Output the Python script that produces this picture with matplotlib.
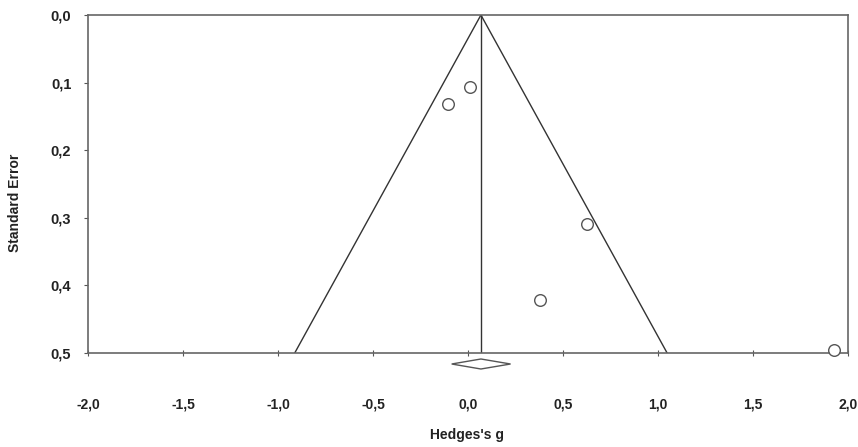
import matplotlib
matplotlib.use("Agg")
import matplotlib.pyplot as plt
from matplotlib.patches import Polygon

plt.rcParams['font.family'] = ['Liberation Sans', 'DejaVu Sans']

# Data
effect = [-0.105, 0.011, 0.626, 0.379, 1.926]
se = [0.131, 0.107, 0.309, 0.422, 0.495]
summary = 0.068
ci_low, ci_high = -0.086, 0.224
xticks = [-2.0, -1.5, -1.0, -0.5, 0.0, 0.5, 1.0, 1.5, 2.0]
yticks = [0.0, 0.1, 0.2, 0.3, 0.4, 0.5]
se_max = 0.5

fig = plt.figure(figsize=(8.58, 4.47), dpi=100)
ax = fig.add_axes([88/858, 1-353/447, 760/858, 338/447])

# funnel
ax.plot([summary - 1.96*se_max, summary, summary + 1.96*se_max], [se_max, 0, se_max],
        color='#333333', lw=1.0, zorder=2)
ax.plot([summary, summary], [0, se_max], color='#333333', lw=1.0, zorder=2)

ax.scatter(effect, se, s=70, facecolors='white', edgecolors='#555555', linewidths=1.0, zorder=3, clip_on=False)

# summary diamond below axis
yd = 0.5 + 11/676*1.0
hd = 5/676
dia = Polygon([[ci_low, yd], [summary, yd - hd], [ci_high, yd], [summary, yd + hd]],
              closed=True, facecolor='white', edgecolor='#555555', lw=1.0, clip_on=False)
ax.add_patch(dia)

ax.set_xlim(-2.0, 2.0)
ax.set_ylim(0.5, 0.0)
ax.set_xticks(xticks)
ax.set_yticks(yticks)
ax.set_xticklabels([f"{v:.1f}".replace('.', ',') for v in xticks], fontsize=10, fontweight='bold', color='#222222')
ax.set_yticklabels([f"{v:.1f}".replace('.', ',') for v in yticks], fontsize=10.5, fontweight='bold', color='#222222')
ax.tick_params(axis='x', direction='inout', length=4, pad=30, color='#555555')
ax.tick_params(axis='y', direction='out', length=3, pad=9, color='#555555')
for s in ax.spines.values():
    s.set_color('#666666')
    s.set_linewidth(1.2)

fig.text(467/858, 1-435/447, "Hedges's g", fontsize=10, fontweight='bold', color='#222222',
         ha='center', va='center')
fig.text(15/858, 1-203/447, "Standard Error", fontsize=10, fontweight='bold', color='#222222',
         ha='center', va='center', rotation=90)

fig.savefig("out.png", dpi=100)
